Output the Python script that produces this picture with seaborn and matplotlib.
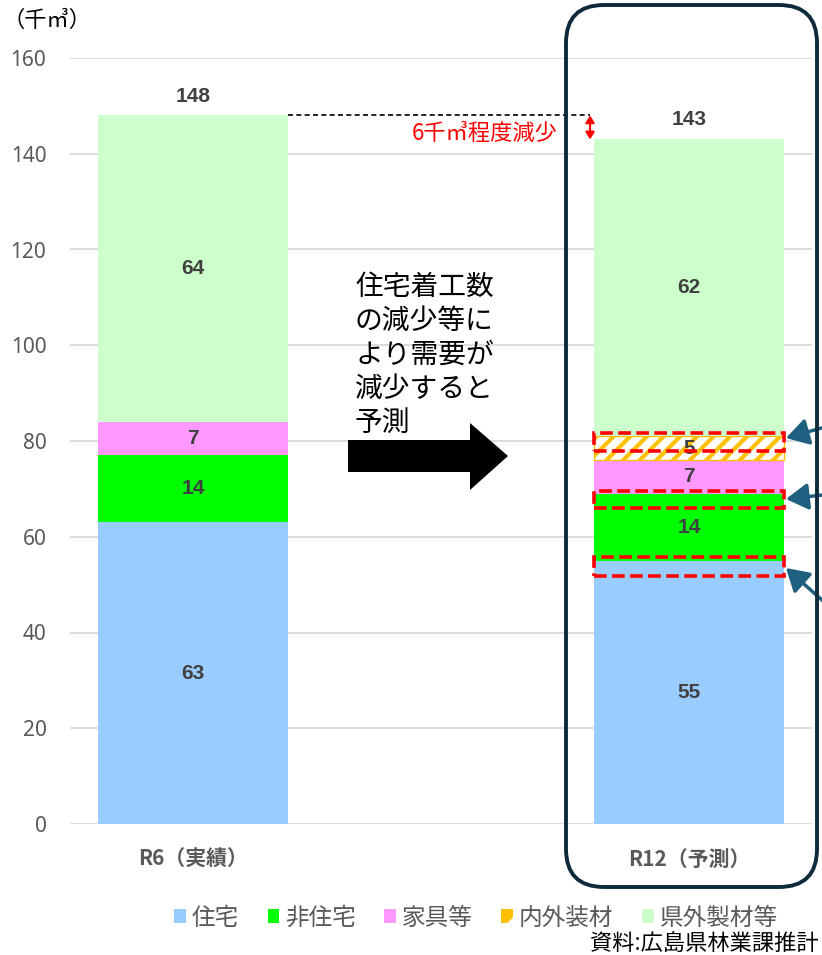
import numpy as np
import matplotlib
matplotlib.use("Agg")
import matplotlib.pyplot as plt
import seaborn as sns
from matplotlib.patches import Patch, Rectangle, FancyBboxPatch, Polygon
from matplotlib.transforms import IdentityTransform

# --- data (千㎥) ---
periods = ["R6（実績）", "R12（予測）"]
housing = [63, 55]
non_housing = [14, 14]
furniture = [7, 7]
interior = [0, 5]
outside_lumber = [64, 62]
totals = [148, 143]

series_names = ["住宅", "非住宅", "家具等", "内外装材", "県外製材等"]
series_values = [housing, non_housing, furniture, interior, outside_lumber]
series_colors = ["#99CCFF", "#00FF00", "#FF99FF", "#FFFFFF", "#CCFFCC"]
hatch_color = "#FFC000"

sns.set_theme(style="white")
plt.rcParams["font.family"] = ["Noto Sans CJK JP", "DejaVu Sans"]
plt.rcParams["hatch.linewidth"] = 3.0

W, H = 822, 955
fig = plt.figure(figsize=(W / 100, H / 100), dpi=100)
ax = fig.add_axes([70 / W, 1 - 824 / H, 742 / W, 766 / H])

num_font = ["Liberation Sans", "DejaVu Sans"]
bar_w = 0.383
label_color = "#404040"
bottoms = np.zeros(len(periods))
for name, vals, col in zip(series_names, series_values, series_colors):
    vals = np.asarray(vals, dtype=float)
    hatched = name == "内外装材"
    n_before = len(ax.patches)
    kw = dict(edgecolor=hatch_color, linewidth=1.0, hatch="//") if hatched else dict(linewidth=0)
    sns.barplot(x=periods, y=vals, bottom=bottoms.copy(), color=col, width=bar_w,
                saturation=1, errorbar=None, ax=ax, zorder=2, **kw)
    for p, v in zip(ax.patches[n_before:], vals):
        if v == 0:
            p.set_visible(False)
    for i, v in enumerate(vals):
        if v > 0:
            ax.text(i, bottoms[i] + v / 2, f"{v:g}", ha="center", va="center",
                    fontsize=15, fontweight="bold", color=label_color, zorder=5,
                    family=num_font)
    bottoms += vals

for i, t in enumerate(totals):
    ax.annotate(f"{t}", xy=(i, t), xytext=(0, 14), textcoords="offset points",
                ha="center", va="center", fontsize=15, fontweight="bold",
                color=label_color, family=num_font)

ax.set_xlim(-0.248, 1.248)
ax.set_ylim(0, 160)
ax.set_yticks(np.arange(0, 161, 20))
ax.set_xlabel("")
ax.set_ylabel("")
sns.despine(ax=ax, left=True, bottom=True)
ax.yaxis.grid(True, color="#D9D9D9", lw=1.3, zorder=0)
ax.xaxis.grid(False)
ax.set_axisbelow(True)
ax.tick_params(axis="y", length=0, pad=17, labelsize=15, labelcolor="#595959")
ax.tick_params(axis="x", length=0, pad=18, labelsize=15, labelcolor="#595959")
for lab in ax.get_xticklabels():
    lab.set_fontweight("bold")
for lab in ax.get_yticklabels():
    lab.set_family(["Noto Sans", "DejaVu Sans"])

# decrease between the two totals
left_edge = 1 - bar_w / 2
ax.plot([bar_w / 2, left_edge - 0.008], [totals[0], totals[0]], color="black",
        lw=1.2, ls=(0, (3, 2)), zorder=4, clip_on=False)
ax.annotate("", xy=(left_edge - 0.008, totals[1]), xytext=(left_edge - 0.008, totals[0]),
            arrowprops=dict(arrowstyle="<|-|>,head_length=0.35,head_width=0.22",
                            color="red", lw=1.5, shrinkA=0, shrinkB=0))
ax.text(left_edge - 0.073, (totals[0] + totals[1]) / 2 - 1.2, "6千㎥程度減少",
        ha="right", va="center", fontsize=16, color="red")

# dashed highlight frames on the forecast bar
for y0, y1 in [(77.9, 81.7), (66.0, 69.6), (51.8, 55.8)]:
    ax.add_patch(Rectangle((left_edge, y0), bar_w, y1 - y0, fill=False,
                           edgecolor="red", lw=2.6, ls=(0, (3.5, 1.5)), zorder=6))

# explanatory note and arrow
fig.text(355 / W, 1 - 272 / H, "住宅着工数\nの減少等に\nより需要が\n減少すると\n予測",
         ha="left", va="top", fontsize=20, color="black", linespacing=1.17)
arrow_px = [(348, 440), (470, 440), (470, 423), (508, 456), (470, 490), (470, 472), (348, 472)]
fig.add_artist(Polygon([(x / W, 1 - y / H) for x, y in arrow_px], closed=True,
                       facecolor="black", edgecolor="none", transform=fig.transFigure))

# pointers from the right
for (x0, y0), (x1, y1) in [((850, 420), (786, 438)), ((850, 492), (786, 499)),
                           ((850, 625), (786, 568))]:
    ax.annotate("", xy=(x1, H - y1), xycoords="figure pixels",
                xytext=(x0, H - y0), textcoords="figure pixels",
                arrowprops=dict(arrowstyle="-|>,head_length=0.75,head_width=0.45",
                                color="#1F5F80", lw=2.5, shrinkA=0, shrinkB=0,
                                mutation_scale=18),
                annotation_clip=False)

# rounded frame around the forecast column
frame = FancyBboxPatch((566, H - 887), 817 - 566, 887 - 5,
                       boxstyle="round,pad=0,rounding_size=38",
                       fill=False, edgecolor="#0E2A3B", lw=2.8,
                       transform=IdentityTransform())
fig.add_artist(frame)

# unit
fig.text(2 / W, 1 - 20 / H, "（千㎥）", ha="left", va="center", fontsize=16, color="black")

# legend
handles = []
for name, col in zip(series_names, series_colors):
    if name == "内外装材":
        handles.append(Patch(facecolor=hatch_color, edgecolor="white", hatch="/", lw=0, label=name))
    else:
        handles.append(Patch(facecolor=col, edgecolor="none", label=name))
leg = fig.legend(handles=handles, loc="center", bbox_to_anchor=(476 / W, 1 - 918 / H),
                 ncol=5, frameon=False, fontsize=17, handlelength=0.5, handleheight=0.5,
                 handletextpad=0.25, columnspacing=1.2, borderaxespad=0)
for t in leg.get_texts():
    t.set_color("#595959")

fig.text(590 / W, 1 - 943 / H, "資料:広島県林業課推計", ha="left", va="center",
         fontsize=16, color="black")

fig.savefig("out.png", dpi=100, facecolor="white")
